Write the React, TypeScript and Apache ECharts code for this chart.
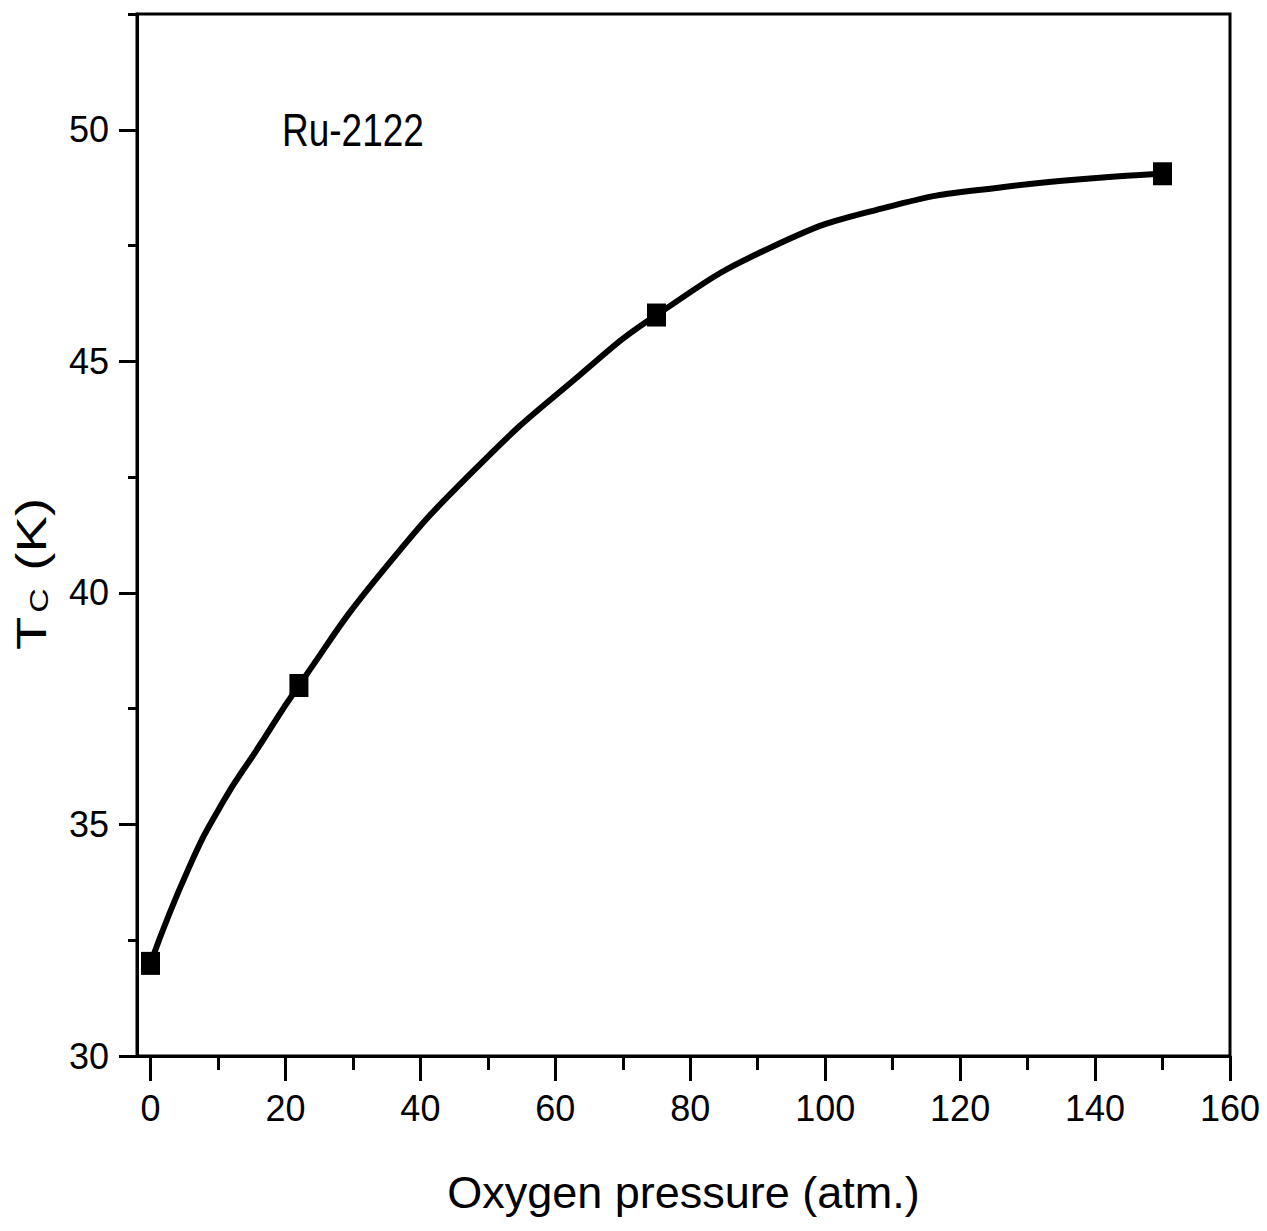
import React, { useEffect, useRef } from "react";
import * as echarts from "echarts";

const pressures = [0, 22, 75, 150];
const tcValues = [32, 38, 46, 49.05];

const curveX = [0, 5.8, 10.8, 15.7, 22, 34, 48.8, 63.6, 75, 92.1, 109.2, 126.2, 150];
const curveY = [32, 34.1, 35.5, 36.6, 38, 40.4, 42.77, 44.7, 46, 47.47, 48.33, 48.76, 49.05];

const xMajorTicks = [0, 20, 40, 60, 80, 100, 120, 140, 160];
const xMinorTicks = [10, 30, 50, 70, 90, 110, 130, 150];
const yMajorTicks = [30, 35, 40, 45, 50];
const yMinorTicks = [32.5, 37.5, 42.5, 47.5, 52.5];

const X_MIN = -2;
const X_MAX = 160;
const Y_MIN = 30;
const Y_MAX = 52.5;

const FONT = "'Liberation Sans', Arial, Helvetica, sans-serif";

export default function App() {
  const ref = useRef<HTMLDivElement>(null);
  useEffect(() => {
    if (!ref.current) return;
    const chart = echarts.init(ref.current, null, { renderer: "svg" });
    chart.setOption({
      animation: false,
      backgroundColor: "#fff",
      grid: { left: 137, right: 37, top: 14, bottom: 175, show: true, borderColor: "#000", borderWidth: 3, backgroundColor: "#fff" },
      xAxis: [
        {
          type: "value",
          min: X_MIN,
          max: X_MAX,
          position: "bottom",
          name: "Oxygen pressure (atm.)",
          nameLocation: "middle",
          nameGap: 114,
          nameTextStyle: { fontFamily: FONT, fontSize: 45, color: "#000" },
          axisLine: { show: true, onZero: false, lineStyle: { color: "#000", width: 3 } },
          axisTick: { show: true, inside: false, length: 25, lineStyle: { color: "#000", width: 3 }, customValues: xMajorTicks },
          axisLabel: { margin: 34, fontFamily: FONT, fontSize: 36, color: "#000", customValues: xMajorTicks },
          splitLine: { show: false },
        },
        {
          type: "value",
          min: X_MIN,
          max: X_MAX,
          position: "bottom",
          axisLine: { show: false, onZero: false },
          axisTick: { show: true, inside: false, length: 14, lineStyle: { color: "#000", width: 3 }, customValues: xMinorTicks },
          axisLabel: { show: false },
          splitLine: { show: false },
        },
      ],
      yAxis: [
        {
          type: "value",
          min: Y_MIN,
          max: Y_MAX,
          position: "left",
          axisLine: { show: true, onZero: false, lineStyle: { color: "#000", width: 3 } },
          axisTick: { show: true, inside: false, length: 18, lineStyle: { color: "#000", width: 3 }, customValues: yMajorTicks },
          axisLabel: { margin: 28, fontFamily: FONT, fontSize: 36, color: "#000", customValues: yMajorTicks },
          splitLine: { show: false },
        },
        {
          type: "value",
          min: Y_MIN,
          max: Y_MAX,
          position: "left",
          axisLine: { show: false, onZero: false },
          axisTick: { show: true, inside: false, length: 9, lineStyle: { color: "#000", width: 3 }, customValues: yMinorTicks },
          axisLabel: { show: false },
          splitLine: { show: false },
        },
      ],
      graphic: [
        {
          type: "text",
          x: 30,
          y: 574,
          rotation: Math.PI / 2,
          scaleX: 1.3,
          style: {
            text: "{t|T}{s|C}{t| (K)}",
            align: "center",
            verticalAlign: "middle",
            fill: "#000",
            rich: {
              t: { fontFamily: FONT, fontSize: 42, fill: "#000", verticalAlign: "bottom" },
              s: { fontFamily: FONT, fontSize: 26, fill: "#000", padding: [18, 2, 0, 3] },
            },
          },
        },
        {
          type: "text",
          x: 282,
          y: 106,
          scaleY: 1.27,
          style: { text: "Ru-2122", fontFamily: FONT, fontSize: 37, fill: "#000", align: "left", verticalAlign: "top" },
        },
      ],
      series: [
        {
          type: "line",
          name: "fit",
          xAxisIndex: 0,
          yAxisIndex: 0,
          data: curveX.map((x, i) => [x, curveY[i]]),
          smooth: 0.5,
          showSymbol: false,
          lineStyle: { color: "#000", width: 6 },
          z: 2,
        },
        {
          type: "scatter",
          name: "Tc",
          xAxisIndex: 0,
          yAxisIndex: 0,
          data: pressures.map((x, i) => [x, tcValues[i]]),
          symbol: "rect",
          symbolSize: [19, 23],
          itemStyle: { color: "#000", opacity: 1 },
          z: 3,
        },
      ],
    });
    return () => chart.dispose();
  }, []);
  return <div ref={ref} style={{ position: "absolute", left: 0, top: 0, width: 1267, height: 1231 }} />;
}
